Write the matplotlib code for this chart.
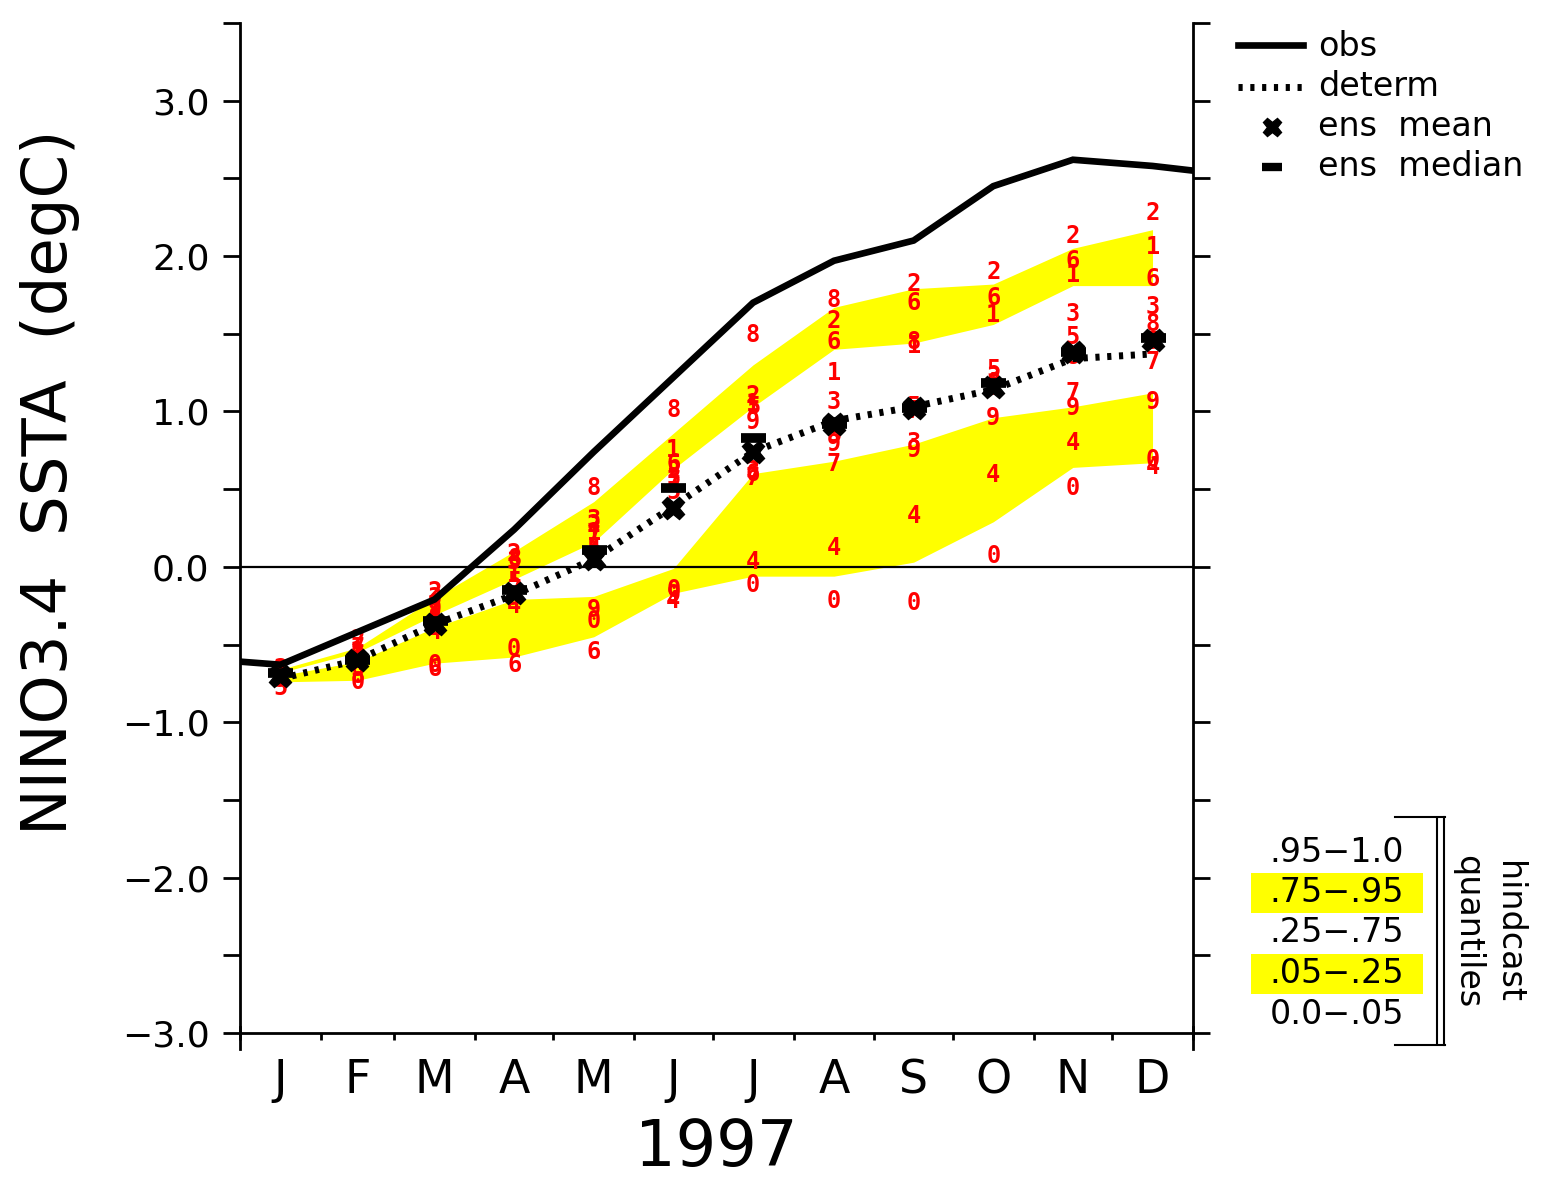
import matplotlib
matplotlib.use("Agg")
import matplotlib.pyplot as plt
from matplotlib.lines import Line2D
from matplotlib.patches import Rectangle
import numpy as np

# --- data (degC) ---
months = ["J", "F", "M", "A", "M", "J", "J", "A", "S", "O", "N", "D"]
month_days = [31, 28, 31, 30, 31, 30, 31, 31, 30, 31, 30, 31]

# obs includes Dec 1996 and Jan 1998 so the line runs to the frame edges
obs = [-0.59, -0.63, -0.42, -0.21, 0.24, 0.74, 1.22, 1.70, 1.97, 2.10, 2.45, 2.62, 2.58, 2.52]
determ = [-0.72, -0.60, -0.37, -0.18, 0.05, 0.39, 0.74, 0.94, 1.03, 1.14, 1.34, 1.37]
ens_mean = [-0.70, -0.60, -0.37, -0.17, 0.05, 0.38, 0.74, 0.92, 1.02, 1.16, 1.38, 1.46]
ens_median = [-0.68, -0.60, -0.35, -0.15, 0.11, 0.51, 0.83, 0.92, 1.02, 1.18, 1.38, 1.47]

q95 = [-0.66, -0.52, -0.20, 0.10, 0.42, 0.86, 1.30, 1.67, 1.79, 1.82, 2.05, 2.17]
q75 = [-0.68, -0.55, -0.31, -0.08, 0.16, 0.63, 1.03, 1.40, 1.44, 1.56, 1.81, 1.81]
q25 = [-0.70, -0.61, -0.39, -0.21, -0.19, -0.01, 0.60, 0.68, 0.79, 0.96, 1.03, 1.12]
q05 = [-0.74, -0.73, -0.62, -0.58, -0.45, -0.17, -0.06, -0.06, 0.03, 0.29, 0.64, 0.67]

# ensemble members 0..9 for each month
members = [
    [-0.70, -0.68, -0.66, -0.70, -0.72, -0.78, -0.69, -0.67, -0.71, -0.73],
    [-0.74, -0.55, -0.47, -0.58, -0.62, -0.66, -0.60, -0.52, -0.70, -0.57],
    [-0.63, -0.30, -0.16, -0.20, -0.42, -0.36, -0.66, -0.25, -0.33, -0.27],
    [-0.53, -0.05, 0.08, 0.03, -0.25, -0.10, -0.63, -0.15, 0.05, -0.20],
    [-0.35, 0.22, 0.27, 0.30, 0.10, 0.12, -0.55, 0.20, 0.51, -0.28],
    [-0.15, 0.75, 0.62, 0.57, -0.22, 0.48, 0.66, 0.55, 1.01, -0.18],
    [-0.12, 1.05, 1.10, 0.62, 0.03, 1.03, 0.60, 0.57, 1.49, 0.93],
    [-0.22, 1.25, 1.58, 1.06, 0.12, 0.85, 1.45, 0.66, 1.72, 0.79],
    [-0.23, 1.42, 1.82, 0.80, 0.33, 1.03, 1.70, 1.00, 1.45, 0.75],
    [0.07, 1.62, 1.90, 1.22, 0.59, 1.27, 1.73, 1.15, 1.18, 0.96],
    [0.51, 1.88, 2.13, 1.63, 0.80, 1.48, 1.97, 1.12, 1.35, 1.02],
    [0.69, 2.06, 2.28, 1.67, 0.64, 1.45, 1.85, 1.32, 1.56, 1.06],
]

quant_labels = [".95\u22121.0", ".75\u2212.95", ".25\u2212.75", ".05\u2212.25", "0.0\u2212.05"]

# x axis in day of year
starts = np.concatenate([[0], np.cumsum(month_days)[:-1]])
mid = starts + np.array(month_days) / 2.0
obs_x = np.concatenate([[-15.5], mid, [365 + 15.5]])

W, H = 1543, 1184
fig = plt.figure(figsize=(W / 100, H / 100), dpi=100)
ax = fig.add_axes([240 / W, 1 - 1033 / H, (1193 - 240) / W, (1033 - 23) / H])

yellow = "#ffff00"
ax.fill_between(mid, q75, q95, color=yellow, lw=0, zorder=1)
ax.fill_between(mid, q05, q25, color=yellow, lw=0, zorder=1)
ax.axhline(0, color="black", lw=1.6, zorder=2)

for i in range(len(mid)):
    for k, v in enumerate(members[i]):
        ax.text(mid[i], v, str(k), color="red", fontsize=17, fontweight="bold",
                family="DejaVu Sans Mono", ha="center", va="center", zorder=3)

ax.plot(obs_x, obs, color="black", lw=4.8, zorder=4, solid_joinstyle="miter")
ax.plot(mid, determ, color="black", lw=5, ls=(0, (0.6, 1.1)), dash_capstyle="butt", zorder=4)
ax.plot(mid, ens_mean, ls="none", marker="X", ms=16, color="black", mec="black", zorder=5)
ax.plot(mid, ens_median, ls="none", marker="_", ms=18, mew=7, color="black", zorder=5)

ax.set_xlim(0, 365)
ax.set_ylim(-3.0, 3.5)

ax.spines["top"].set_visible(False)
for s in ["left", "right", "bottom"]:
    ax.spines[s].set_linewidth(2)

ax.set_yticks(np.arange(-3, 3.01, 1.0))
ax.set_yticks(np.arange(-3, 3.51, 0.5), minor=True)
ax.set_yticklabels([("%.1f" % v).replace("-", "\u2212") for v in np.arange(-3, 3.01, 1.0)])
ax.yaxis.set_ticks_position("both")
ax.tick_params(axis="y", which="both", direction="out", length=12, width=2,
               labelsize=26, pad=10)
ax.tick_params(axis="y", which="both", labelright=False)

ax.set_xticks(np.append(starts, 365))
ax.set_xticklabels([])
ax.set_xticks(mid, minor=True)
ax.set_xticklabels(months, minor=True)
ax.tick_params(axis="x", which="major", direction="out", length=5, width=2)
ax.tick_params(axis="x", which="minor", length=0, labelsize=33, pad=18)

# longer ticks at the ends of the year
for xe in [0, 365]:
    ax.plot([xe, xe], [-0.016, 0.006], color="black", lw=2,
            transform=ax.get_xaxis_transform(), clip_on=False)


def fx(px):
    return px / W


def fy(py):
    return 1 - py / H


fig.text(fx(716), fy(1166), "1997", fontsize=46, ha="center", va="baseline")
fig.text(fx(50), fy(482), "NINO3.4  SSTA  (degC)", fontsize=45, rotation=90,
         ha="center", va="center")

# legend, top right
fig.add_artist(Line2D([fx(1238), fx(1303)], [fy(45), fy(45)], color="black", lw=4.8))
fig.add_artist(Line2D([fx(1238), fx(1303)], [fy(87), fy(87)], color="black", lw=5,
                      ls=(0, (0.6, 1.1)), dash_capstyle="butt"))
fig.add_artist(Line2D([fx(1272)], [fy(127)], ls="none", marker="X", ms=13, color="black"))
fig.add_artist(Line2D([fx(1272)], [fy(167)], ls="none", marker="_", ms=14, mew=6, color="black"))
leg_txt = ["obs", "determ", "ens  mean", "ens  median"]
for j, t in enumerate(leg_txt):
    fig.text(fx(1318), fy(47 + 40 * j), t, fontsize=24, va="center", ha="left")

# hindcast quantile key
for j, t in enumerate(quant_labels):
    yc = 852 + 40.5 * j
    if j in (1, 3):
        fig.add_artist(Rectangle((fx(1251), fy(yc + 20)), fx(1423) - fx(1251), 40 / H,
                                 color=yellow, lw=0))
    fig.text(fx(1337), fy(yc), t, fontsize=24, ha="center", va="center")

fig.add_artist(Line2D([fx(1395), fx(1445)], [fy(817), fy(817)], color="black", lw=1.5))
fig.add_artist(Line2D([fx(1395), fx(1445)], [fy(1045), fy(1045)], color="black", lw=1.5))
fig.add_artist(Line2D([fx(1437), fx(1437)], [fy(819), fy(1043)], color="black", lw=1.5))
fig.add_artist(Line2D([fx(1444), fx(1444)], [fy(817), fy(1045)], color="black", lw=1.5))
fig.text(fx(1468), fy(932), "quantiles", fontsize=24, rotation=270, ha="center", va="center")
fig.text(fx(1508), fy(932), "hindcast", fontsize=24, rotation=270, ha="center", va="center")

fig.savefig("out.png", dpi=100)
